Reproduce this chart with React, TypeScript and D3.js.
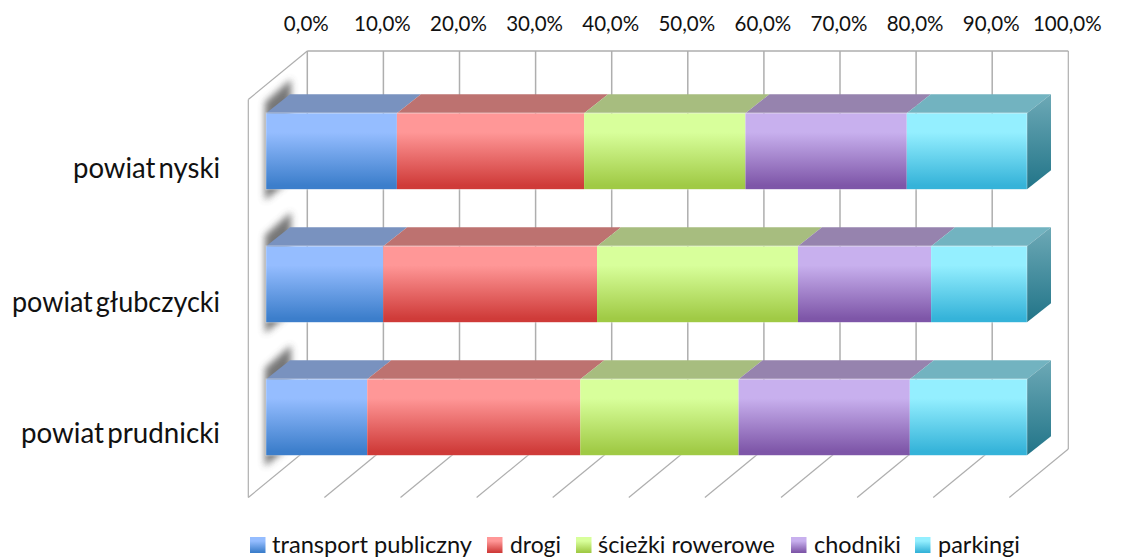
import * as d3 from "d3";

// Share of each investment type per county, in percent.
const counties = ["powiat nyski", "powiat głubczycki", "powiat prudnicki"];
const seriesNames = ["transport publiczny", "drogi", "ścieżki rowerowe", "chodniki", "parkingi"];
const transportPubliczny = [17.2, 15.4, 13.3];
const drogi = [24.6, 28.1, 28.0];
const sciezkiRowerowe = [21.2, 26.4, 20.8];
const chodniki = [21.2, 17.5, 22.5];
const parkingi = [15.8, 12.6, 15.4];
const seriesValues = [transportPubliczny, drogi, sciezkiRowerowe, chodniki, parkingi];
const tickValues = [0, 10, 20, 30, 40, 50, 60, 70, 80, 90, 100];

// Face colours per series: gradient start, gradient end, top face.
const gradTop = ["#95bdff", "#ff9797", "#d8ff9b", "#c8b0ee", "#94efff"];
const gradBottom = ["#3c7ecb", "#cf3b39", "#a0ca45", "#7e56a8", "#35b3d9"];
const topFace = ["#7992bf", "#bd7270", "#a7bd7f", "#9683ae", "#72b3c0"];

const W = 1121;
const H = 558;
const DEPTH_X = 24;
const DEPTH_Y = 19;
const WALL_DX = 59;
const WALL_DY = 48.5;
const WALL_TOP = 51;
const WALL_BOTTOM = 449;
const GRID = "#aeaeae";

const xBack = d3.scaleLinear().domain([0, 100]).range([307.3, 1068.3]);
const xFront = d3.scaleLinear().domain([0, 100]).range([266, 1027]);
const yBand = d3.scaleBand<string>().domain(counties).range([113.3, 455.3]).paddingInner(0.429).paddingOuter(0);

const rows = counties.map((county, i) => {
  const row: Record<string, number | string> = { county };
  seriesNames.forEach((s, k) => (row[s] = seriesValues[k][i]));
  return row;
});
const stacked = d3.stack<Record<string, number | string>>().keys(seriesNames)(rows as any);
const poly = (pts: number[][]) => pts.map((p) => p.join(",")).join(" ");

// Legend swatches and text runs, laid out left to right along the bottom.
const legendSwatchX = [250, 487, 576, 791, 915];
const legendTextX = [272, 510, 598, 814, 938];
const legendTextW = [200, 51, 177, 87, 82];

// Rendered widths of the category labels and their baselines.
const categoryW = [147, 208, 199];
const categoryBaseline = [178, 311.5, 443];
const FONT = "Lato, Carlito, 'Open Sans', sans-serif";

export default function App() {
  const bw = yBand.bandwidth();
  return (
    <svg width={W} height={H} viewBox={`0 0 ${W} ${H}`} style={{ position: "absolute", left: 0, top: 0, background: "#fff" }} fontFamily={FONT} fill="#111">
      <defs>
        <filter id="wallShadow" x="-100%" y="-30%" width="300%" height="160%">
          <feGaussianBlur stdDeviation="3.5" />
        </filter>
        {seriesNames.map((_, k) => (
          <linearGradient key={k} id={`front${k}`} x1="0" y1="0" x2="0" y2="1">
            <stop offset="0" stopColor={gradTop[k]} />
            <stop offset="0.25" stopColor={gradTop[k]} />
            <stop offset="0.95" stopColor={gradBottom[k]} />
            <stop offset="1" stopColor={gradBottom[k]} />
          </linearGradient>
        ))}
        <linearGradient id="endFace" x1="0" y1="0" x2="0" y2="1">
          <stop offset="0" stopColor="#6da9b6" />
          <stop offset="1" stopColor="#217488" />
        </linearGradient>
      </defs>

      {/* Back wall, side wall and floor lines */}
      <g stroke={GRID} fill="none">
        {tickValues.map((t) => (
          <line key={t} x1={xBack(t)} x2={xBack(t)} y1={WALL_TOP} y2={WALL_BOTTOM} strokeWidth={t === 100 ? 1.2 : 1.5} />
        ))}
        <line x1={xBack(0)} x2={xBack(100)} y1={WALL_TOP} y2={WALL_TOP} strokeWidth={1.5} />
        <line x1={xBack(0)} x2={xBack(0) - WALL_DX} y1={WALL_TOP} y2={WALL_TOP + WALL_DY} strokeWidth={1.2} />
        <line x1={xBack(0) - WALL_DX} x2={xBack(0) - WALL_DX} y1={WALL_TOP + WALL_DY} y2={WALL_BOTTOM + WALL_DY} strokeWidth={1.2} />
        {tickValues.map((t) => (
          <line key={t} x1={xBack(t)} x2={xBack(t) - WALL_DX} y1={WALL_BOTTOM} y2={WALL_BOTTOM + WALL_DY} strokeWidth={1.2} />
        ))}
      </g>

      {/* Soft shadow cast on the side wall */}
      {counties.map((c) => {
        const y = yBand(c)!;
        const x = xFront(0);
        return (
          <polygon
            key={c}
            points={poly([[x - 1, y - 11], [x + 25, y - 34], [x + 25, y + bw - 10], [x - 1, y + bw + 11]])}
            fill="#4a4a4a"
            opacity={0.75}
            filter="url(#wallShadow)"
          />
        );
      })}

      {/* Stacked boxes */}
      {counties.map((c, i) => {
        const y = yBand(c)!;
        return (
          <g key={c}>
            {stacked.map((layer, k) => {
              const x0 = xFront(layer[i][0]);
              const x1 = xFront(layer[i][1]);
              return (
                <polygon
                  key={k}
                  points={poly([[x0, y], [x1, y], [x1 + DEPTH_X, y - DEPTH_Y], [x0 + DEPTH_X, y - DEPTH_Y]])}
                  fill={topFace[k]}
                />
              );
            })}
            <polygon
              points={poly([
                [xFront(100), y],
                [xFront(100) + DEPTH_X, y - DEPTH_Y],
                [xFront(100) + DEPTH_X, y + bw - DEPTH_Y],
                [xFront(100), y + bw],
              ])}
              fill="url(#endFace)"
            />
            {stacked.map((layer, k) => {
              const x0 = xFront(layer[i][0]);
              const x1 = xFront(layer[i][1]);
              return <rect key={k} x={x0} y={y} width={x1 - x0} height={bw} fill={`url(#front${k})`} />;
            })}
            <rect x={xFront(0)} y={y - 0.5} width={xFront(100) - xFront(0)} height={bw + 1} fill="none" stroke="#fff" strokeOpacity={0.35} strokeWidth={1} />
          </g>
        );
      })}

      {/* Value axis along the top */}
      {tickValues.map((t) => (
        <text key={t} x={xBack(t) - 1} y={31} textAnchor="middle" fontSize={20.5}>
          {t.toFixed(1).replace(".", ",")}%
        </text>
      ))}

      {/* County labels */}
      {counties.map((c, i) => (
        <text
          key={c}
          x={220}
          y={categoryBaseline[i]}
          textAnchor="end"
          fontSize={28}
          wordSpacing={-4}
          textLength={categoryW[i]}
          lengthAdjust="spacingAndGlyphs"
        >
          {c}
        </text>
      ))}

      {/* Legend */}
      {seriesNames.map((s, k) => (
        <g key={s}>
          <rect x={legendSwatchX[k]} y={537} width={15.5} height={16} fill={`url(#front${k})`} />
          <text x={legendTextX[k]} y={553} fontSize={23.5} textLength={legendTextW[k]} lengthAdjust="spacingAndGlyphs">
            {s}
          </text>
        </g>
      ))}
    </svg>
  );
}
